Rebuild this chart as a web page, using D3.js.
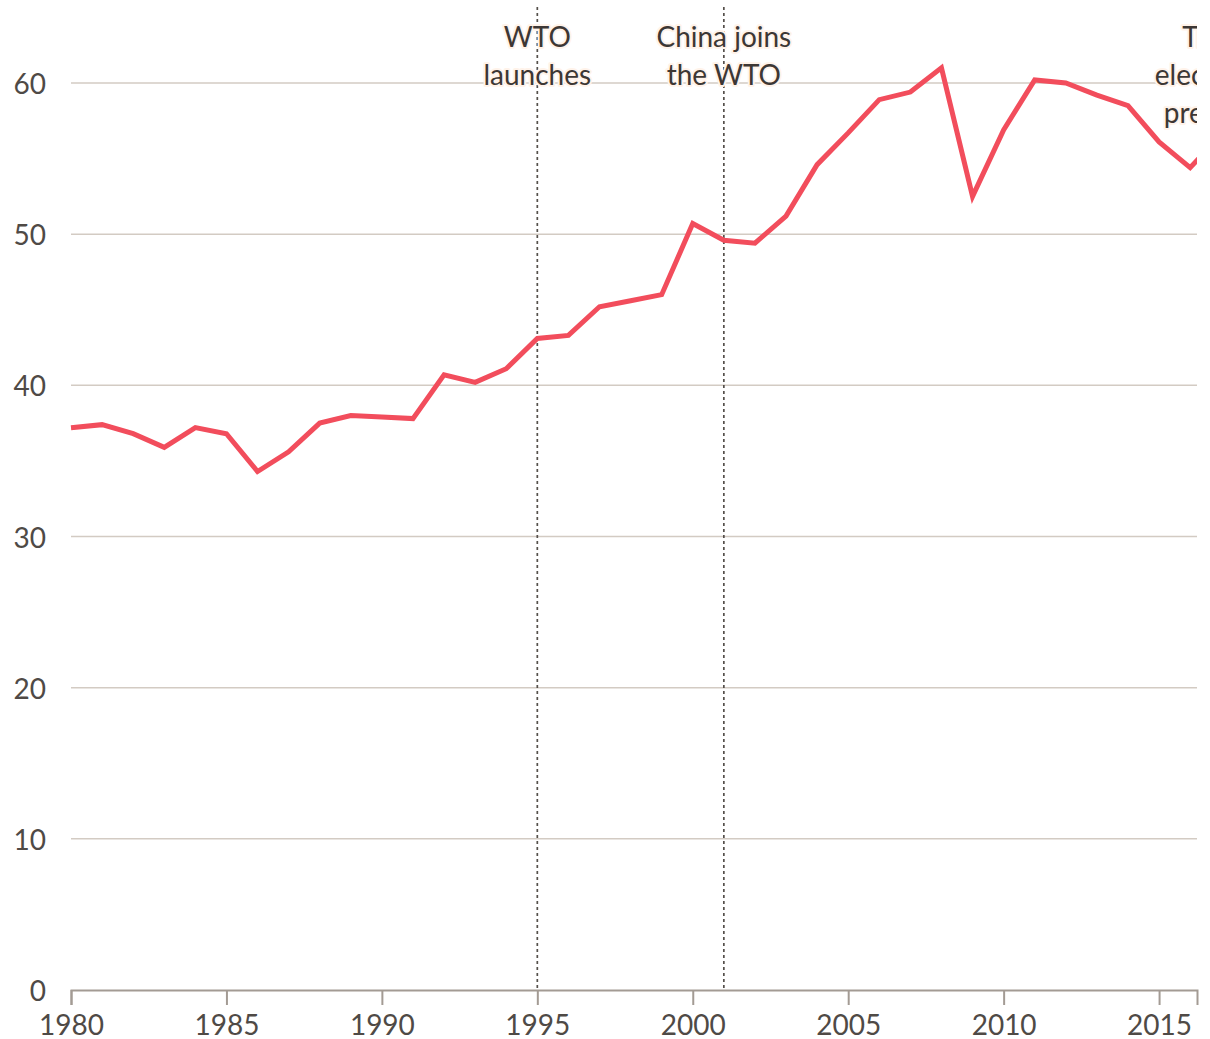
<!DOCTYPE html>
<html>
<head>
<meta charset="utf-8">
<script src="https://cdn.jsdelivr.net/npm/d3@7"></script>
<style>
  html, body { margin: 0; padding: 0; background: #ffffff; }
  svg { display: block; }
  text { font-family: Lato, "Open Sans", sans-serif; }
</style>
</head>
<body>
<svg id="chart" width="1210" height="1039"></svg>
<script>
// ---- data ----
const years = [1980,1981,1982,1983,1984,1985,1986,1987,1988,1989,1990,1991,1992,1993,1994,1995,1996,1997,1998,1999,2000,2001,2002,2003,2004,2005,2006,2007,2008,2009,2010,2011,2012,2013,2014,2015,2016,2017];
const values = [37.2,37.4,36.8,35.9,37.2,36.8,34.3,35.6,37.5,38.0,37.9,37.8,40.7,40.2,41.1,43.1,43.3,45.2,45.6,46.0,50.7,49.6,49.4,51.2,54.6,56.7,58.9,59.4,61.0,52.5,56.9,60.2,60.0,59.2,58.5,56.1,54.4,56.6];
const yTicks = [0,10,20,30,40,50,60];
const xTicks = [1980,1985,1990,1995,2000,2005,2010,2015];
const eventYears = [1995, 2001, 2017];
const eventLabels = [["WTO","launches"],["China joins","the WTO"],["Trump","elected US","president"]];

(function () {
// ---- layout ----
const svg = d3.select("#chart");
const mLeft = 71, mRight = 1197, mTop = 83, mBottom = 990;
const fs = 28;

const x = d3.scaleLinear().domain([1980, 2016.22]).range([mLeft, mRight]);
const y = d3.scaleLinear().domain([0, 60]).range([mBottom, mTop]);

svg.append("defs").append("clipPath").attr("id","clip")
  .append("rect").attr("x", 0).attr("y", 0).attr("width", mRight).attr("height", 1039);

// gridlines
svg.append("g").selectAll("line").data(yTicks.filter(d => d > 0)).join("line")
  .attr("x1", mLeft).attr("x2", mRight)
  .attr("y1", d => y(d)).attr("y2", d => y(d))
  .attr("stroke", "#d3cbc3").attr("stroke-width", 1.5);

// y labels
svg.append("g").selectAll("text").data(yTicks).join("text")
  .attr("x", 46).attr("y", d => y(d) + 11)
  .attr("text-anchor", "end")
  .attr("font-size", fs)
  .attr("fill", "#4f4a46")
  .text(d => d);

// x axis
const xAxis = d3.axisBottom(x).tickValues(xTicks).tickFormat(d3.format("d")).tickSize(15).tickPadding(10);
const gx = svg.append("g").attr("transform", `translate(0,${mBottom})`).call(xAxis);
gx.select(".domain").attr("stroke", "#a39b94").attr("stroke-width", 2);
gx.selectAll(".tick line").attr("stroke", "#a39b94").attr("stroke-width", 2);
gx.selectAll(".tick text").attr("font-size", fs).attr("fill", "#4f4a46")
  .attr("font-family", "Lato, 'Open Sans', sans-serif");

const plot = svg.append("g").attr("clip-path", "url(#clip)");

// event lines
plot.append("g").selectAll("line").data(eventYears).join("line")
  .attr("x1", d => x(d)).attr("x2", d => x(d))
  .attr("y1", 7).attr("y2", mBottom)
  .attr("stroke", "#55504b").attr("stroke-width", 1.7)
  .attr("stroke-dasharray", "3,3");

// data line
const line = d3.line().x((d, i) => x(years[i])).y(d => y(d));
plot.append("path").datum(values)
  .attr("d", line)
  .attr("fill", "none")
  .attr("stroke", "#f24d5c")
  .attr("stroke-width", 5)
  .attr("stroke-linejoin", "miter");

// annotations
const ann = plot.append("g").selectAll("text").data(eventYears).join("text")
  .attr("x", d => x(d))
  .attr("y", 47)
  .attr("text-anchor", "middle")
  .attr("font-size", fs)
  .attr("fill", "#3d3734")
  .attr("stroke", "#fff3ea")
  .attr("stroke-width", 4)
  .attr("paint-order", "stroke")
  .attr("stroke-linejoin", "round");
ann.each(function(d, i) {
  d3.select(this).selectAll("tspan").data(eventLabels[i]).join("tspan")
    .attr("x", x(d))
    .attr("dy", (t, j) => j === 0 ? 0 : 38)
    .text(t => t);
});
})();
</script>
</body>
</html>
